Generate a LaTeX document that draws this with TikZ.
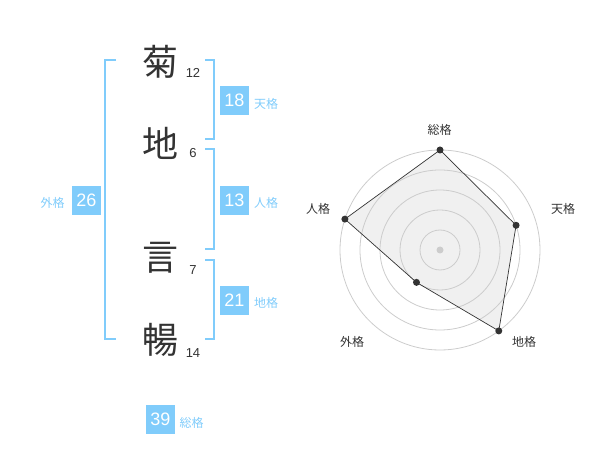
\documentclass[tikz,border=0pt]{standalone}
\usepackage{fontspec}
\setmainfont{Liberation Sans}
\newfontfamily\cjk{Noto Sans CJK JP}
\definecolor{kblue}{HTML}{80CCFB}
\definecolor{kdark}{HTML}{333333}
\definecolor{kring}{HTML}{CCCCCC}
\definecolor{kfill}{HTML}{F0F0F0}
\tikzset{
  bigchar/.style={font=\cjk\fontsize{36}{36}\selectfont, text=kdark, inner sep=0pt},
  strokes/.style={font=\fontsize{13}{13}\selectfont, text=kdark, inner sep=0pt},
  valbox/.style={fill=kblue, text=white, minimum width=29pt, minimum height=29pt, inner sep=0pt, font=\fontsize{18}{18}\selectfont},
  kakulabel/.style={font=\cjk\fontsize{12}{12}\selectfont, text=kblue, inner sep=0pt},
  bracket/.style={draw=kblue, line width=2pt},
  ring/.style={draw=kring, line width=0.8pt},
  radarlabel/.style={font=\cjk\fontsize{12}{12}\selectfont, text=kdark, inner sep=0pt},
  dotpt/.style={circle, fill=kdark, inner sep=0pt, minimum size=7pt},
}
\begin{document}
\begin{tikzpicture}[x=1pt,y=-1pt]
\useasboundingbox (0,0) rectangle (600,470);
% characters
\node[bigchar] (c1) at (160,62) {菊};
\node[bigchar] (c2) at (160,143) {地};
\node[bigchar] (c3) at (160,258) {言};
\node[bigchar] (c4) at (160,340) {暢};
\node[strokes] (s1) at (193,73) {12};
\node[strokes] (s2) at (193,153) {6};
\node[strokes] (s3) at (193,270) {7};
\node[strokes] (s4) at (193,353) {14};
% brackets
\draw[bracket] (116,60) -- (105,60) -- (105,339) -- (116,339);
\draw[bracket] (205,60) -- (214,60) -- (214,139) -- (205,139);
\draw[bracket] (205,149) -- (214,149) -- (214,249) -- (205,249);
\draw[bracket] (205,260) -- (214,260) -- (214,339) -- (205,339);
% boxes
\node[valbox] (ten) at (234.5,100.5) {18};
\node[kakulabel] (tenl) at (266,104) {天格};
\node[valbox] (jin) at (234.5,200.5) {13};
\node[kakulabel] (jinl) at (266,203) {人格};
\node[valbox] (chi) at (234.5,300.5) {21};
\node[kakulabel] (chil) at (266,303) {地格};
\node[valbox] (gai) at (86.3,200.5) {26};
\node[kakulabel] (gail) at (52.5,203) {外格};
\node[valbox] (sou) at (160.5,419.5) {39};
\node[kakulabel] (soul) at (191.5,423) {総格};
% radar
\begin{scope}[shift={(440,250)}, yscale=-1]
  \coordinate (p1) at (90:100);
  \coordinate (p2) at (18:80);
  \coordinate (p3) at (-54:100);
  \coordinate (p4) at (-126:40);
  \coordinate (p5) at (162:100);
  \fill[kfill] (p1) -- (p2) -- (p3) -- (p4) -- (p5) -- cycle;
  \foreach \r in {20,40,60,80,100} \draw[ring] (0,0) circle (\r);
  \fill[kring] (0,0) circle (3.5);
  \draw[kdark, line width=0.7pt] (p1) -- (p2) -- (p3) -- (p4) -- (p5) -- cycle;
  \foreach \p in {p1,p2,p3,p4,p5} \node[dotpt] at (\p) {};
\end{scope}
\node[radarlabel] (r1) at (439.5,130) {総格};
\node[radarlabel] (r2) at (563,208.5) {天格};
\node[radarlabel] (r3) at (318,209) {人格};
\node[radarlabel] (r4) at (352,342) {外格};
\node[radarlabel] (r5) at (524,342) {地格};
\end{tikzpicture}
\end{document}
